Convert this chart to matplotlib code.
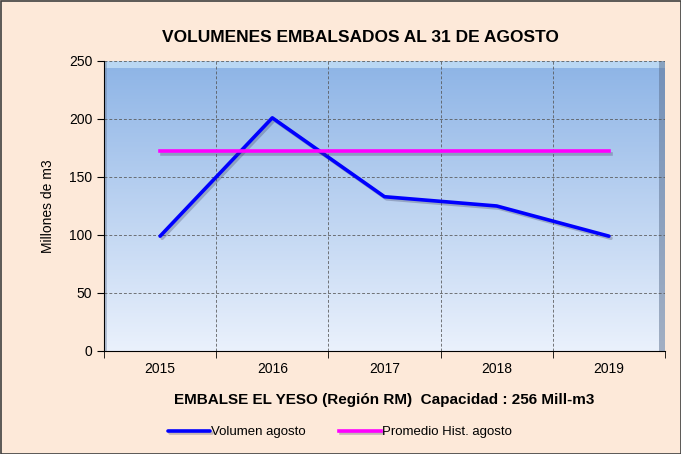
import matplotlib
matplotlib.use("Agg")
import matplotlib.pyplot as plt
import matplotlib.patheffects as pe
import numpy as np
from matplotlib.patches import Rectangle

years = ["2015", "2016", "2017", "2018", "2019"]
volumen = [99, 201, 133, 125, 99]
promedio = [172, 172, 172, 172, 172]

plt.rcParams['font.family'] = ['Liberation Sans', 'DejaVu Sans']

fig = plt.figure(figsize=(6.81, 4.54), dpi=100, facecolor="#FDE9D9")
W, H = 681, 454
ax = fig.add_axes([104/W, 1-351/H, (665-104)/W, (351-61)/H])

x = np.arange(len(years))
ax.set_xlim(-0.5, len(years)-0.5)
ax.set_ylim(0, 250)

# gradient background
grad = np.linspace(0, 1, 256).reshape(-1, 1)
c_top = np.array([0x8D, 0xB4, 0xE6]) / 255
c_bot = np.array([0xEA, 0xF1, 0xFC]) / 255
img = c_top[None, None, :] * (1-grad[:, :, None]) + c_bot[None, None, :] * grad[:, :, None]
ax.imshow(img, extent=[0, 1, 0, 1], transform=ax.transAxes, aspect='auto', zorder=0)
# bevel highlights / shadows
ax.add_patch(Rectangle((0, 0.975), 1, 0.025, transform=ax.transAxes, color="#C6E0F7", alpha=0.8, zorder=0.5, lw=0))
ax.add_patch(Rectangle((0.99, 0), 0.01, 1, transform=ax.transAxes, color="#5A6E8C", alpha=0.5, zorder=0.5, lw=0))
ax.add_patch(Rectangle((0, 0), 0.006, 1, transform=ax.transAxes, color="#6C7F9C", alpha=0.4, zorder=0.5, lw=0))

ax.set_yticks(np.arange(0, 251, 50))
ax.set_xticks(x)
ax.set_xticklabels(years)
ax.set_xticks(np.arange(-0.5, len(years), 1), minor=True)
ax.grid(True, which='major', axis='y', color='#555555', linestyle=(0, (3, 2)), linewidth=0.7, alpha=0.8)
ax.grid(True, which='minor', axis='x', color='#555555', linestyle=(0, (3, 2)), linewidth=0.7, alpha=0.8)
ax.tick_params(axis='x', which='major', length=0, labelsize=10, pad=8)
ax.tick_params(axis='x', which='minor', length=5, direction='out', color='black')
ax.tick_params(axis='y', length=5, direction='out', labelsize=10, color='black')
for s in ['top', 'right']:
    ax.spines[s].set_visible(False)
ax.spines['left'].set_color('black')
ax.spines['bottom'].set_color('black')

shadow = [pe.SimpleLineShadow(offset=(1.5, -1.5), shadow_color='#404060', alpha=0.3), pe.Normal()]
ax.plot(x, volumen, color='#0000FF', lw=2.6, label='Volumen agosto', path_effects=shadow, zorder=3, solid_capstyle='round')
ax.plot(x, promedio, color='#FF00FF', lw=2.6, label='Promedio Hist. agosto', path_effects=shadow, zorder=3)

ax.set_ylabel('Millones de m3', fontsize=10, labelpad=10)
ax.set_xlabel('EMBALSE EL YESO (Región RM)  Capacidad : 256 Mill-m3', fontsize=11, fontweight='bold', labelpad=12)
fig.text(360/W, 1-37/H, 'VOLUMENES EMBALSADOS AL 31 DE AGOSTO', ha='center', va='center', fontsize=12.5, fontweight='bold')

leg = fig.legend(loc='center', bbox_to_anchor=(340/W, 1-432/H), ncol=2, frameon=False, fontsize=9.5,
                 handlelength=3.2, handletextpad=0.1, columnspacing=2.5)

fig.add_artist(Rectangle((0.5/W, 0.5/H), 1-1/W, 1-1/H, transform=fig.transFigure, fill=False, ec='#404040', lw=1.2))

fig.savefig('out.png', dpi=100, facecolor=fig.get_facecolor())
